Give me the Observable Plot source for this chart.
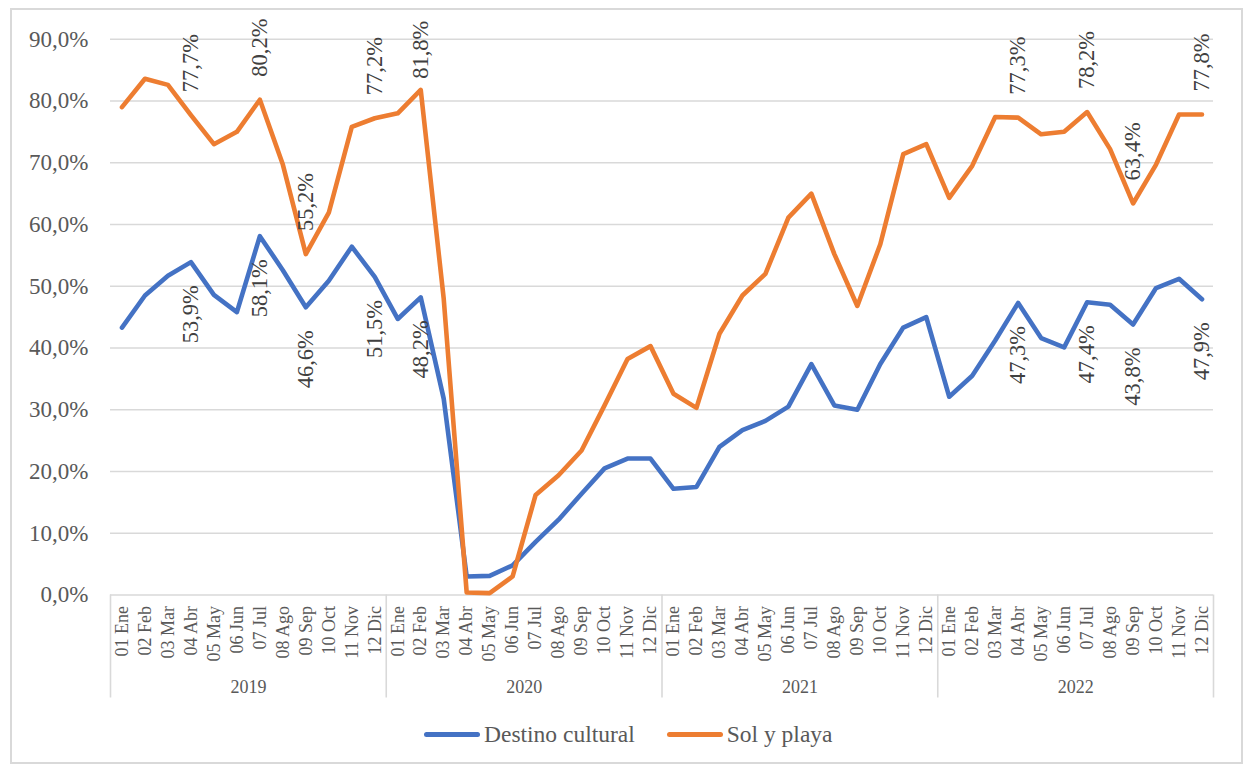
<!DOCTYPE html>
<html>
<head>
<meta charset="utf-8">
<script src="https://cdn.jsdelivr.net/npm/d3@7"></script>
<script src="https://cdn.jsdelivr.net/npm/@observablehq/plot@0.6"></script>
<style>
  html, body { margin: 0; padding: 0; background: #fff; }
  #wrap { position: relative; width: 1245px; height: 764px; overflow: hidden; font-family: "Liberation Serif", serif; }
  #frame { position: absolute; left: 10px; top: 8px; width: 1233px; height: 756px; box-sizing: border-box; border: 2px solid #d9d9d9; }
  #chart { position: absolute; left: 0; top: 0; }
  #chart svg, #chart svg text, #chart svg g { font-family: "Liberation Serif", serif !important; }
  #legend { position: absolute; left: 424px; top: 719px; height: 30px; display: flex; align-items: center; font-size: 23.5px; color: #595959; }
  .item { display: flex; align-items: center; }
  .sw { width: 56px; height: 5px; border-radius: 3px; margin-right: 4px; }
</style>
</head>
<body>
<div id="wrap">
  <div id="frame"></div>
  <div id="chart"></div>
  <div id="legend"></div>
</div>
<script>
const months = ["01 Ene","02 Feb","03 Mar","04 Abr","05 May","06 Jun","07 Jul","08 Ago","09 Sep","10 Oct","11 Nov","12 Dic"];
const years = ["2019","2020","2021","2022"];
const seriesNames = ["Destino cultural","Sol y playa"];
const seriesColors = ["#4472C4","#ED7D31"];

const cultural = [
  43.3, 48.5, 51.7, 53.9, 48.6, 45.8, 58.1, 52.6, 46.6, 50.9, 56.4, 51.5,
  44.7, 48.2, 31.8, 3.0, 3.1, 4.8, 8.6, 12.2, 16.4, 20.5, 22.1, 22.1,
  17.2, 17.5, 24.0, 26.7, 28.2, 30.5, 37.4, 30.7, 30.0, 37.4, 43.3, 45.0,
  32.1, 35.5, 41.2, 47.3, 41.6, 40.1, 47.4, 47.0, 43.8, 49.7, 51.2, 47.9
];
const solPlaya = [
  79.0, 83.6, 82.6, 77.7, 73.0, 75.0, 80.2, 69.7, 55.2, 61.9, 75.8, 77.2,
  78.0, 81.8, 48.0, 0.4, 0.3, 3.0, 16.2, 19.4, 23.4, 30.7, 38.2, 40.3,
  32.6, 30.3, 42.3, 48.5, 52.0, 61.1, 65.0, 55.2, 46.8, 56.8, 71.4, 73.0,
  64.3, 69.5, 77.4, 77.3, 74.6, 75.0, 78.2, 72.2, 63.4, 69.7, 77.8, 77.8
];
const labeledIdx = [3, 6, 8, 11, 13, 39, 42, 44, 47];
const yTicks = [0, 10, 20, 30, 40, 50, 60, 70, 80, 90];

const fmt = v => v.toFixed(1).replace(".", ",") + "%";
const rows = [];
[cultural, solPlaya].forEach((arr, s) => arr.forEach((v, i) => rows.push({i, v, s: seriesNames[s]})));
const culturalLabels = labeledIdx.map(i => ({i, v: cultural[i]}));
const solLabels = labeledIdx.map(i => ({i, v: solPlaya[i]}));
const seps = d3.range(years.length + 1).map(k => k * 12 - 0.5);
const yearPos = years.map((y, k) => ({x: k * 12 + 5.5, t: y}));

const font = "Liberation Serif, serif";
const chart = Plot.plot({
  width: 1245,
  height: 712,
  marginLeft: 110,
  marginRight: 32,
  marginTop: 38.7,
  marginBottom: 117.5,
  style: {fontFamily: font, background: "transparent", color: "#595959", overflow: "visible"},
  x: {type: "linear", domain: [-0.5, 47.5]},
  y: {domain: [0, 90]},
  color: {domain: seriesNames, range: seriesColors},
  marks: [
    Plot.gridY(yTicks.slice(1), {stroke: "#d9d9d9", strokeOpacity: 1, strokeWidth: 1.6}),
    Plot.ruleY([0], {stroke: "#d9d9d9", strokeWidth: 1.6}),
    Plot.ruleX(seps, {x: d => d, y1: 0, y2: 0, insetBottom: -103, stroke: "#d9d9d9", strokeWidth: 1.6}),
    Plot.axisY(yTicks, {tickSize: 0, tickPadding: 22, fontSize: 23, tickFormat: d => d.toFixed(1).replace(".", ",") + "%", label: null, fill: "#595959"}),
    Plot.axisX(d3.range(48), {tickSize: 0, tickPadding: 11, tickRotate: -90, fontSize: 18, tickFormat: i => months[i % 12], label: null, fill: "#595959"}),
    Plot.text(yearPos, {x: "x", y: () => 0, text: "t", dy: 92, fontSize: 18, fill: "#595959"}),
    Plot.line(rows, {x: "i", y: "v", z: "s", stroke: "s", strokeWidth: 4.6, strokeLinejoin: "round", strokeLinecap: "round"}),
    Plot.text(culturalLabels, {x: "i", y: "v", text: d => fmt(d.v), rotate: -90, textAnchor: "end", dy: 23, fontSize: 22.5, fill: "#404040"}),
    Plot.text(solLabels.filter(d => d.v < 81), {x: "i", y: "v", text: d => fmt(d.v), rotate: -90, textAnchor: "start", dy: -23, fontSize: 22.5, fill: "#404040"}),
    Plot.text(solLabels.filter(d => d.v >= 81), {x: "i", y: "v", text: d => fmt(d.v), rotate: -90, textAnchor: "start", dy: -11, fontSize: 22.5, fill: "#404040"})
  ]
});
document.getElementById("chart").appendChild(chart);

const legend = document.getElementById("legend");
seriesNames.forEach((n, k) => {
  const it = document.createElement("div");
  it.className = "item";
  if (k > 0) it.style.marginLeft = "32px";
  const sw = document.createElement("div");
  sw.className = "sw";
  sw.style.background = seriesColors[k];
  const tx = document.createElement("span");
  tx.textContent = n;
  it.appendChild(sw);
  it.appendChild(tx);
  legend.appendChild(it);
});
</script>
</body>
</html>
